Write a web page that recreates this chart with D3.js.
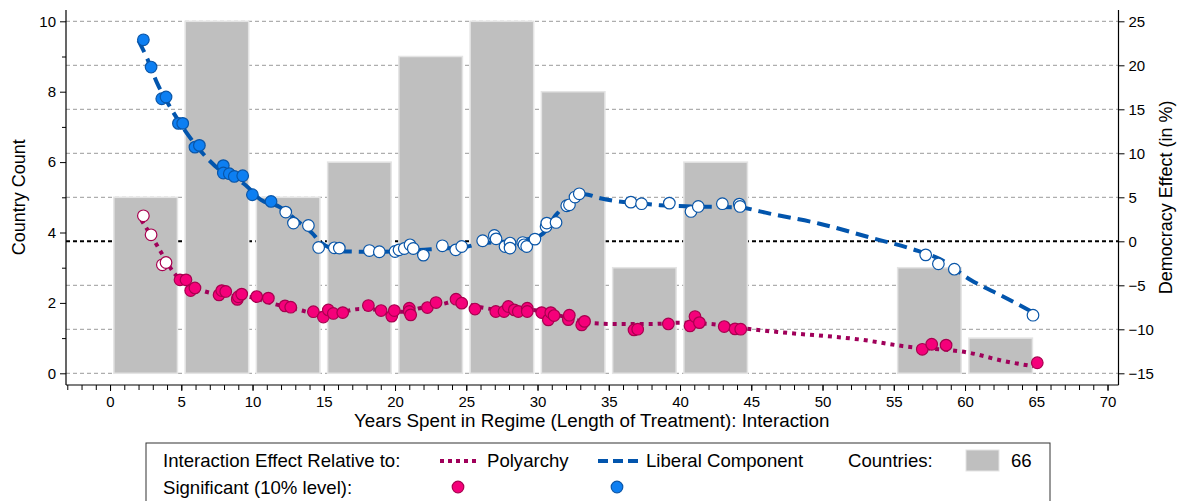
<!DOCTYPE html>
<html>
<head>
<meta charset="utf-8">
<script src="https://cdn.jsdelivr.net/npm/d3@7/dist/d3.min.js"></script>
<style>
  html, body { margin: 0; padding: 0; background: #fff; }
  svg { display: block; font-family: "Liberation Sans", Arial, Helvetica, sans-serif; }
</style>
</head>
<body>
<svg id="chart" width="1180" height="501"></svg>
<script>
// Histogram of countries by years spent in regime (5-year bins)
const binStarts = [0, 5, 10, 15, 20, 25, 30, 35, 40, 45, 50, 55, 60];
const countryCounts = [5, 10, 5, 6, 9, 10, 8, 3, 6, 0, 0, 3, 1];

// Axis tick values
const countTicks = [0, 2, 4, 6, 8, 10];
const countMinorTicks = [1, 3, 5, 7, 9];
const effectTicks = [-15, -10, -5, 0, 5, 10, 15, 20, 25];
const yearTicks = [0, 5, 10, 15, 20, 25, 30, 35, 40, 45, 50, 55, 60, 65, 70];

// Fitted interaction effect, liberal component: [year, effect %]
const liberalFit = [
  [2.0, 22.8], [2.6, 20.8], [3.3, 18.0], [4.2, 15.3], [5.3, 12.5], [6.9, 9.3],
  [7.7, 8.1], [9.5, 6.4], [10.6, 4.7], [11.9, 3.9], [13.0, 2.5], [14.2, 0.9],
  [14.7, 0.0], [15.5, -0.8], [16.5, -1.15], [18.5, -1.2], [20.5, -1.1],
  [22.5, -0.9], [25.1, -0.6], [25.8, -0.3], [28.0, 0.0], [29.5, 0.3],
  [30.4, 0.9], [31.3, 3.0], [32.3, 4.5], [33.3, 5.35], [34.4, 4.9],
  [35.4, 4.6], [37.0, 4.35], [38.6, 4.1], [41.0, 3.95], [44.2, 3.85],
  [45.6, 3.4], [46.3, 3.15], [49.8, 2.0], [53.3, 0.45], [56.7, -1.1],
  [58.2, -2.0], [60.4, -4.4], [62.7, -6.3], [64.8, -8.1]
];

// Fitted interaction effect, polyarchy: [year, effect %]
const polyarchyFit = [
  [2.2, 2.4], [2.9, 0.6], [3.6, -1.3], [4.4, -3.4], [5.0, -4.5], [6.3, -5.5],
  [8.4, -6.2], [9.6, -6.3], [11.7, -7.2], [13.3, -7.8], [14.5, -8.2],
  [16.0, -8.1], [17.5, -7.7], [19.0, -7.8], [20.5, -8.0], [22.0, -7.5],
  [23.4, -7.1], [24.1, -6.85], [26.0, -7.5], [27.5, -7.8], [29.5, -7.8],
  [31.7, -8.5], [33.8, -9.3], [35.5, -9.4], [38.0, -9.4], [40.0, -9.25],
  [42.2, -9.4], [45.0, -10.0], [47.5, -10.4], [52.8, -11.2], [55.6, -11.9],
  [60.4, -12.7], [62.7, -13.6], [64.8, -14.2]
];

// Country estimates, liberal component: [year, effect %, significant at 10%]
const liberalPoints = [
  [2.34, 22.9, 1], [2.88, 19.8, 1], [3.63, 16.2, 1], [3.93, 16.4, 1],
  [4.80, 13.4, 1], [5.10, 13.4, 1], [5.96, 10.7, 1], [6.27, 10.9, 1],
  [7.95, 8.6, 1], [7.95, 7.76, 1], [8.37, 7.68, 1], [8.72, 7.37, 1],
  [9.31, 7.45, 1], [9.99, 5.29, 1], [11.3, 4.53, 1],
  [12.33, 3.32, 0], [12.87, 2.07, 0], [13.92, 1.8, 0], [14.64, -0.7, 0],
  [15.74, -0.74, 0], [16.09, -0.77, 0], [18.2, -1.05, 0], [18.9, -1.19, 0],
  [20.0, -1.16, 0], [20.28, -0.97, 0], [20.65, -0.82, 0], [21.05, -0.4, 0],
  [21.28, -0.82, 0], [21.99, -1.57, 0], [23.32, -0.51, 0], [24.26, -0.97, 0],
  [24.68, -0.59, 0], [26.15, 0.06, 0], [26.97, 0.66, 0], [27.09, 0.28, 0],
  [27.72, -0.59, 0], [28.07, -0.2, 0], [28.07, -0.77, 0], [28.96, -0.14, 0],
  [29.05, -0.4, 0], [29.24, -0.59, 0], [29.82, 0.25, 0], [30.6, 1.68, 0],
  [30.65, 2.07, 0], [31.3, 2.14, 0], [32.05, 4.04, 0], [32.24, 4.15, 0],
  [32.63, 5.03, 0], [32.93, 5.4, 0], [36.55, 4.45, 0], [37.3, 4.27, 0],
  [39.25, 4.34, 0], [40.77, 3.39, 0], [41.28, 3.96, 0], [42.97, 4.27, 0],
  [44.16, 4.23, 0], [44.21, 3.96, 0], [57.24, -1.54, 0], [58.13, -2.56, 0],
  [59.25, -3.17, 0], [64.77, -8.4, 0]
];

// Country estimates, polyarchy: [year, effect %, significant at 10%]
const polyarchyPoints = [
  [2.34, 2.9, 0], [2.88, 0.74, 0], [3.67, -2.67, 0], [3.93, -2.41, 0],
  [4.91, -4.38, 1], [5.33, -4.38, 1], [5.66, -5.6, 1], [5.96, -5.3, 1],
  [7.65, -6.09, 1], [7.84, -5.6, 1], [8.12, -5.7, 1], [8.93, -6.6, 1],
  [9.0, -6.3, 1], [9.24, -6.0, 1], [10.29, -6.28, 1], [11.11, -6.46, 1],
  [12.28, -7.34, 1], [12.68, -7.49, 1], [14.27, -8.0, 1], [14.97, -8.6, 1],
  [15.32, -7.8, 1], [15.67, -8.2, 1], [16.33, -8.1, 1], [18.13, -7.3, 1],
  [19.02, -7.87, 1], [19.77, -8.5, 1], [19.95, -7.87, 1], [21.0, -7.6, 1],
  [21.0, -7.98, 1], [21.1, -8.36, 1], [22.27, -7.53, 1], [22.88, -6.96, 1],
  [24.28, -6.58, 1], [24.68, -7.03, 1], [25.61, -7.7, 1], [27.07, -7.98, 1],
  [27.65, -7.98, 1], [27.95, -7.41, 1], [28.37, -7.79, 1], [28.65, -7.98, 1],
  [29.28, -7.6, 1], [29.28, -7.98, 1], [30.29, -8.1, 1], [30.76, -8.93, 1],
  [30.93, -8.1, 1], [31.16, -8.44, 1], [32.16, -8.9, 1], [32.23, -8.4, 1],
  [33.1, -9.5, 1], [33.3, -9.1, 1], [36.77, -10.07, 1], [37.03, -9.99, 1],
  [39.18, -9.39, 1], [40.7, -9.61, 1], [41.05, -8.55, 1], [41.36, -9.24, 1],
  [43.1, -9.69, 1], [43.86, -9.95, 1], [44.26, -9.99, 1], [57.0, -12.27, 1],
  [57.66, -11.7, 1], [58.67, -11.8, 1], [65.07, -13.8, 1]
];

const binWidth = 5;
const totalCountries = d3.sum(countryCounts);

const colors = {
  bar: "#bfbfbf", barEdge: "#e4e4e4", grid: "#9a9a9a",
  libLine: "#0255ad", libFill: "#0d7ff2", libEdge: "#0a56a8",
  polyLine: "#a0005a", polyFill: "#f5007a", polyEdge: "#a8004f"
};

const svg = d3.select("#chart");
const plot = { left: 66, right: 1118.5, top: 21.3, bottom: 373.3, axisY: 385, axisTop: 10 };

const x = d3.scaleLinear().domain([-3.09, 70.77]).range([plot.left, plot.right]);
const yCount = d3.scaleLinear().domain([0, 10]).range([plot.bottom, plot.top]);
const yEffect = d3.scaleLinear().domain([-15, 25]).range([plot.bottom, plot.top]);

const minus = d => d < 0 ? "\u2212" + Math.abs(d) : String(d);

// Horizontal grid at the effect ticks
svg.append("g").selectAll("line")
  .data(effectTicks.filter(d => d !== 0))
  .join("line")
  .attr("x1", plot.left).attr("x2", plot.right)
  .attr("y1", d => yEffect(d)).attr("y2", d => yEffect(d))
  .attr("stroke", colors.grid).attr("stroke-width", 1)
  .attr("stroke-dasharray", "4,3");

// Zero-effect reference line
svg.append("line")
  .attr("x1", plot.left).attr("x2", plot.right)
  .attr("y1", yEffect(0)).attr("y2", yEffect(0))
  .attr("stroke", "#000").attr("stroke-width", 2)
  .attr("stroke-dasharray", "4,3");

// Country count bars
const barInset = 0.27;
svg.append("g").selectAll("rect")
  .data(binStarts.map((s, i) => ({ s, n: countryCounts[i] })).filter(d => d.n > 0))
  .join("rect")
  .attr("x", d => x(d.s + barInset))
  .attr("width", d => x(d.s + binWidth - barInset) - x(d.s + barInset))
  .attr("y", d => yCount(d.n))
  .attr("height", d => yCount(0) - yCount(d.n))
  .attr("fill", colors.bar)
  .attr("stroke", colors.barEdge).attr("stroke-width", 1.5);

// Fitted lines
const line = d3.line()
  .x(d => x(d[0])).y(d => yEffect(d[1]))
  .curve(d3.curveMonotoneX);

svg.append("path").datum(polyarchyFit)
  .attr("d", line).attr("fill", "none")
  .attr("stroke", colors.polyLine).attr("stroke-width", 4)
  .attr("stroke-dasharray", "4,5");

svg.append("path").datum(liberalFit)
  .attr("d", line).attr("fill", "none")
  .attr("stroke", colors.libLine).attr("stroke-width", 4)
  .attr("stroke-dasharray", "13,7");

// Country markers (filled = significant at 10% level)
function drawPoints(data, fill, edge) {
  svg.append("g").selectAll("circle")
    .data(data)
    .join("circle")
    .attr("cx", d => x(d[0])).attr("cy", d => yEffect(d[1]))
    .attr("r", 5.8)
    .attr("fill", d => d[2] ? fill : "#fff")
    .attr("stroke", edge).attr("stroke-width", 1.2);
}
drawPoints(polyarchyPoints, colors.polyFill, colors.polyEdge);
drawPoints(liberalPoints, colors.libFill, colors.libEdge);

// Axes
const axisFont = 15;
const axisColor = "#000";

// Left axis: country count
const gL = svg.append("g").attr("transform", `translate(${plot.left},0)`)
  .call(d3.axisLeft(yCount).tickValues(countTicks).tickSize(6).tickPadding(4));
gL.append("g").call(d3.axisLeft(yCount).tickValues(countMinorTicks).tickSize(4).tickFormat(""));
// Right axis: democracy effect
const gR = svg.append("g").attr("transform", `translate(${plot.right},0)`)
  .call(d3.axisRight(yEffect).tickValues(effectTicks).tickSize(6).tickPadding(4).tickFormat(minus));
// Bottom axis: years
const gB = svg.append("g").attr("transform", `translate(0,${plot.axisY})`)
  .call(d3.axisBottom(x).tickValues(yearTicks).tickSize(6).tickPadding(5));
gB.append("g").call(d3.axisBottom(x).tickValues(d3.range(-3, 71)).tickSize(5).tickFormat(""));

[gL, gR, gB].forEach(g => {
  g.selectAll(".domain").remove();
  g.selectAll("text").attr("font-size", axisFont).attr("fill", axisColor)
    .attr("font-family", "Liberation Sans, Arial, sans-serif");
  g.selectAll("line").attr("stroke", axisColor);
});

// Axis lines
svg.append("line").attr("x1", plot.left).attr("x2", plot.left)
  .attr("y1", plot.axisTop).attr("y2", plot.axisY).attr("stroke", "#000").attr("stroke-width", 1.2);
svg.append("line").attr("x1", plot.right).attr("x2", plot.right)
  .attr("y1", plot.axisTop).attr("y2", plot.axisY).attr("stroke", "#000").attr("stroke-width", 1.2);
svg.append("line").attr("x1", plot.left).attr("x2", plot.right)
  .attr("y1", plot.axisY).attr("y2", plot.axisY).attr("stroke", "#000").attr("stroke-width", 1.2);

// Axis titles
svg.append("text")
  .attr("transform", `translate(25,${(plot.top + plot.bottom) / 2}) rotate(-90)`)
  .attr("text-anchor", "middle").attr("font-size", 18).text("Country Count");
svg.append("text")
  .attr("transform", `translate(1172,${(plot.top + plot.bottom) / 2}) rotate(-90)`)
  .attr("text-anchor", "middle").attr("font-size", 18).text("Democracy Effect (in %)");
svg.append("text")
  .attr("x", x(33.8)).attr("y", 427)
  .attr("text-anchor", "middle").attr("font-size", 18.8)
  .text("Years Spent in Regime (Length of Treatment): Interaction");

// Legend
const lg = svg.append("g");
lg.append("rect").attr("x", 146).attr("y", 443).attr("width", 904).attr("height", 80)
  .attr("fill", "#fff").attr("stroke", "#333").attr("stroke-width", 1);
const row1 = 467, row2 = 494, lf = 18.6;
lg.append("text").attr("x", 163).attr("y", row1).attr("font-size", lf).text("Interaction Effect Relative to:");
lg.append("line").attr("x1", 440).attr("x2", 479).attr("y1", row1 - 6).attr("y2", row1 - 6)
  .attr("stroke", colors.polyLine).attr("stroke-width", 4).attr("stroke-dasharray", "4,4");
lg.append("text").attr("x", 487).attr("y", row1).attr("font-size", lf).text("Polyarchy");
lg.append("line").attr("x1", 598).attr("x2", 638).attr("y1", row1 - 6).attr("y2", row1 - 6)
  .attr("stroke", colors.libLine).attr("stroke-width", 4).attr("stroke-dasharray", "10,5");
lg.append("text").attr("x", 646).attr("y", row1).attr("font-size", lf).text("Liberal Component");
lg.append("text").attr("x", 848).attr("y", row1).attr("font-size", lf).text("Countries:");
lg.append("rect").attr("x", 966).attr("y", row1 - 17).attr("width", 33).attr("height", 21)
  .attr("fill", colors.bar).attr("stroke", colors.barEdge);
lg.append("text").attr("x", 1011).attr("y", row1).attr("font-size", lf).text(totalCountries);
lg.append("text").attr("x", 163).attr("y", row2).attr("font-size", lf).text("Significant (10% level):");
lg.append("circle").attr("cx", 458).attr("cy", row2 - 7).attr("r", 5.8)
  .attr("fill", colors.polyFill).attr("stroke", colors.polyEdge).attr("stroke-width", 1.2);
lg.append("circle").attr("cx", 617).attr("cy", row2 - 7).attr("r", 5.8)
  .attr("fill", colors.libFill).attr("stroke", colors.libEdge).attr("stroke-width", 1.2);
</script>
</body>
</html>
